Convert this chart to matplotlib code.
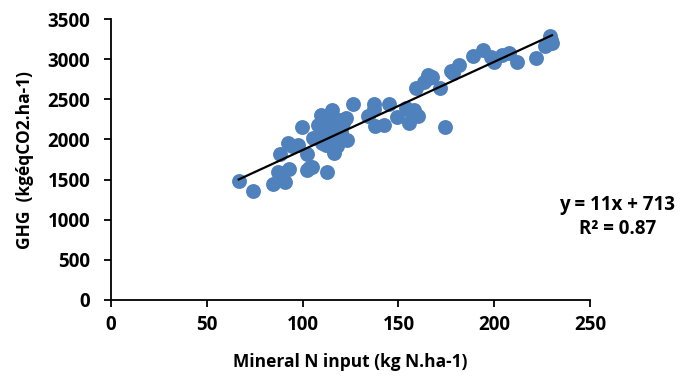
import numpy as np
import matplotlib.pyplot as plt

plt.rcParams['font.family'] = ['Open Sans', 'DejaVu Sans']
plt.rcParams['font.weight'] = 'bold'

# mineral N input (kg N/ha) and GHG emissions (kg eq CO2/ha)
n_input = [66.7, 74.1, 84.7, 91.0, 87.2, 92.7, 88.4, 92.2, 94.6, 97.5,
           99.7, 102.1, 102.1, 104.9, 103.5, 105.5, 108.1, 109.8, 112.7, 115.5,
           116.3, 110.3, 112.0, 118.0, 118.9, 119.7, 122.6, 123.3, 126.1,
           111.0, 113.0, 114.0, 115.0, 116.0, 117.0, 117.5, 114.5, 112.5, 119.0,
           120.0, 116.0, 113.5, 110.0, 118.0, 121.0, 115.0,
           133.9, 137.2, 137.4, 137.7, 142.5, 145.1, 149.3, 153.9, 155.7, 157.9,
           160.0, 156.0, 159.1, 163.4, 165.4, 167.6, 166.0, 171.6, 174.1, 177.4,
           178.5, 181.3, 189.0, 193.8, 198.4, 199.6, 204.1, 207.8, 211.6, 221.5,
           226.3, 229.2, 229.7, 230.0, 227.0]
ghg = [1487, 1354, 1450, 1466, 1590, 1632, 1818, 1955, 1914, 1934,
       2154, 1822, 1624, 1657, 1640, 2017, 2183, 2307, 1595, 2369,
       1831, 1955, 1930, 1914, 2038, 2245, 2266, 1996, 2444,
       2100, 2150, 2250, 2050, 2200, 2100, 1980, 2000, 2050, 2150,
       2100, 1880, 1960, 2080, 2230, 2200, 2120,
       2286, 2444, 2378, 2162, 2183, 2440, 2278, 2390, 2204, 2369,
       2295, 2350, 2638, 2721, 2804, 2783, 2760, 2638, 2154, 2858,
       2830, 2928, 3044, 3115, 3032, 2970, 3053, 3073, 2970, 3020,
       3165, 3289, 3239, 3200, 3180]

x = np.array(n_input)
y = np.array(ghg)
slope, intercept = np.polyfit(x, y, 1)

fig = plt.figure(figsize=(6.88, 3.81), dpi=100)
ax = fig.add_axes([0.161, 0.2126, 0.697, 0.7374])

ax.scatter(x, y, s=115, color='#4F81BD', zorder=2, linewidths=0)
xl = np.array([x.min(), x.max()])
ax.plot(xl, slope * xl + intercept, color='black', lw=1.6, zorder=3)

ax.set_xlim(0, 250)
ax.set_ylim(0, 3500)
ax.set_xticks(np.arange(0, 251, 50))
ax.set_yticks(np.arange(0, 3501, 500))
for s in ['top', 'right']:
    ax.spines[s].set_visible(False)
for s in ['left', 'bottom']:
    ax.spines[s].set_linewidth(1.3)
ax.tick_params(direction='out', length=4.8, width=1.3, labelsize=13.5)
ax.tick_params(axis='y', pad=10)
ax.tick_params(axis='x', pad=6)
for lab in ax.get_xticklabels() + ax.get_yticklabels():
    lab.set_fontweight('bold')

ax.set_xlabel('Mineral N input (kg N.ha-1)', fontsize=12.5, fontweight='bold', labelpad=13)
ax.set_ylabel('GHG  (kgéqCO2.ha-1)', fontsize=12.5, fontweight='bold', labelpad=10)

fig.text(0.897, 0.43, 'y = 11x + 713\nR² = 0.87', ha='center', va='center',
         fontsize=13.5, fontweight='bold', linespacing=1.25)

fig.savefig('out.png', dpi=100)
